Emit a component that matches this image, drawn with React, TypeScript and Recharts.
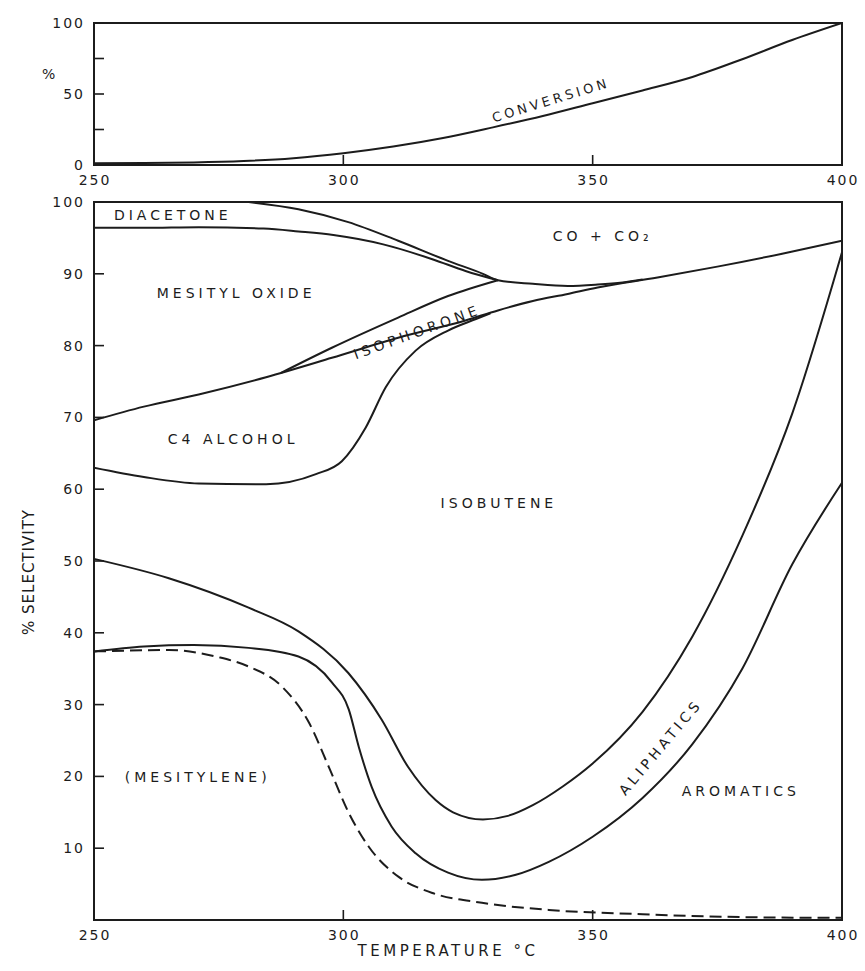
import React from "react";
import { LineChart, Line, XAxis, YAxis, ReferenceArea, ReferenceDot } from "recharts";

const INK = "#1c1c1c";
const FONT = "'DejaVu Sans', sans-serif";

// temperature ticks, shared by both panels
const TEMP_TICKS = [250, 300, 350, 400];
const CONV_TICKS = [0, 25, 50, 75, 100];
const SEL_TICKS = [10, 20, 30, 40, 50, 60, 70, 80, 90, 100];

// top panel: conversion, % vs temperature
const conversion = [
  { t: 250, v: 1.3 }, { t: 260, v: 1.4 }, { t: 270, v: 1.8 }, { t: 280, v: 2.8 },
  { t: 290, v: 4.8 }, { t: 300, v: 8.3 }, { t: 310, v: 13 }, { t: 320, v: 19 },
  { t: 330, v: 26.5 }, { t: 340, v: 34.5 }, { t: 350, v: 43.5 }, { t: 360, v: 52.5 },
  { t: 370, v: 62 }, { t: 380, v: 74.5 }, { t: 390, v: 88 }, { t: 400, v: 100 },
];

// bottom panel: cumulative selectivity boundaries
const coDiacetone = [
  { t: 281, v: 100 }, { t: 291, v: 99 }, { t: 301, v: 97.2 }, { t: 311, v: 94.6 },
  { t: 321, v: 91.8 }, { t: 328, v: 90 }, { t: 331, v: 89.1 }, { t: 338, v: 88.6 },
  { t: 345, v: 88.3 }, { t: 351, v: 88.5 }, { t: 356, v: 88.8 }, { t: 360, v: 89.2 },
];
const diacetoneMesityl = [
  { t: 250, v: 96.4 }, { t: 260, v: 96.4 }, { t: 271, v: 96.5 }, { t: 284, v: 96.3 },
  { t: 291, v: 95.9 }, { t: 298, v: 95.4 }, { t: 308, v: 94.1 }, { t: 318, v: 92 },
  { t: 324.5, v: 90.4 }, { t: 331, v: 89.1 },
];
const mesitylAlcohol = [
  { t: 250, v: 69.6 }, { t: 260, v: 71.5 }, { t: 271, v: 73.2 }, { t: 284.5, v: 75.6 },
  { t: 297.7, v: 78.3 }, { t: 311, v: 81.1 }, { t: 324.5, v: 83.5 }, { t: 331, v: 84.9 },
  { t: 338, v: 86.2 }, { t: 345, v: 87.2 }, { t: 351, v: 88.1 }, { t: 363, v: 89.5 },
  { t: 375, v: 91 }, { t: 388, v: 92.8 }, { t: 400, v: 94.6 },
];
const isophoroneTop = [
  { t: 287.5, v: 76.2 }, { t: 297.7, v: 79.7 }, { t: 311, v: 83.9 }, { t: 321, v: 86.9 },
  { t: 331, v: 89.1 },
];
const alcoholIsobutene = [
  { t: 250, v: 63 }, { t: 260, v: 61.7 }, { t: 271, v: 60.8 }, { t: 284.5, v: 60.7 },
  { t: 294.5, v: 62.1 }, { t: 299.7, v: 63.9 }, { t: 304.5, v: 68.6 }, { t: 308.5, v: 74.2 },
  { t: 314.5, v: 79.3 }, { t: 321, v: 82.1 }, { t: 326.6, v: 83.7 }, { t: 329.5, v: 84.5 },
];
const isobuteneAliphatics = [
  { t: 250, v: 50.3 }, { t: 265, v: 47.6 }, { t: 281, v: 43.5 }, { t: 291, v: 40.2 },
  { t: 301, v: 34.4 }, { t: 307.7, v: 27.9 }, { t: 313, v: 21.3 }, { t: 318.5, v: 16.7 },
  { t: 322, v: 15 }, { t: 328, v: 14 }, { t: 333, v: 14.5 }, { t: 338, v: 16 },
  { t: 344, v: 18.6 }, { t: 350, v: 21.8 }, { t: 360, v: 29 }, { t: 370, v: 39.5 },
  { t: 380, v: 53.5 }, { t: 390, v: 70.5 }, { t: 400, v: 93 },
];
const aliphaticsAromatics = [
  { t: 250, v: 37.4 }, { t: 260, v: 38.1 }, { t: 270, v: 38.3 }, { t: 281, v: 37.9 },
  { t: 291, v: 36.7 }, { t: 297.7, v: 33.1 }, { t: 301.1, v: 29.3 }, { t: 303.1, v: 24.1 },
  { t: 305.7, v: 18.5 }, { t: 309.7, v: 13 }, { t: 314.5, v: 9.3 }, { t: 321, v: 6.6 },
  { t: 327.8, v: 5.6 }, { t: 334.6, v: 6.3 }, { t: 341.2, v: 8.1 }, { t: 350, v: 11.6 },
  { t: 360, v: 17 }, { t: 370, v: 24.5 }, { t: 380, v: 35 }, { t: 390, v: 49.5 },
  { t: 400, v: 60.9 },
];
const mesitylene = [
  { t: 250, v: 37.4 }, { t: 265, v: 37.6 }, { t: 275, v: 36.6 }, { t: 281, v: 35.3 },
  { t: 287.7, v: 32.5 }, { t: 293.1, v: 27.5 }, { t: 297.1, v: 21.3 }, { t: 301.1, v: 14.9 },
  { t: 305.1, v: 10.2 }, { t: 311.1, v: 6 }, { t: 317.7, v: 3.8 }, { t: 327.8, v: 2.4 },
  { t: 341.2, v: 1.4 }, { t: 360, v: 0.8 }, { t: 380, v: 0.4 }, { t: 400, v: 0.3 },
];

// region names and where they sit (temperature, selectivity, rotation)
const regionNames = [
  "DIACETONE", "MESITYL OXIDE", "CO + CO₂", "ISOPHORONE", "C4 ALCOHOL",
  "ISOBUTENE", "(MESITYLENE)", "ALIPHATICS", "AROMATICS",
];
const regionAt = [
  [265.8, 98.2, 0], [278.5, 87.3, 0], [352, 95.3, 0], [314.8, 81.9, -20], [277.9, 67.0, 0],
  [331.2, 58.1, 0], [270.8, 19.9, 0], [363.6, 24.1, -50], [379.7, 17.9, 0],
];

const textStyle = { fontFamily: FONT, fontSize: 14, fill: INK, letterSpacing: 4 };
const tickStyle = { fontFamily: FONT, fontSize: 14, fill: INK, letterSpacing: 2 };

function YTick(props: any) {
  const { x, y, payload, every } = props;
  const axisX = x + 11;
  const show = payload.value % every === 0;
  return (
    <g>
      <line x1={axisX} x2={axisX + 10} y1={y} y2={y} stroke={INK} strokeWidth={1.6} />
      {show && (
        <text x={x + 2} y={y} dy={5} textAnchor="end" {...tickStyle}>
          {payload.value}
        </text>
      )}
    </g>
  );
}

function XTick(props: any) {
  const { x, y, payload } = props;
  const axisY = y - 6;
  return (
    <g>
      <line x1={x} x2={x} y1={axisY} y2={axisY - 10} stroke={INK} strokeWidth={1.6} />
      <text x={x + 1} y={axisY} dy={20} textAnchor="middle" {...tickStyle}>
        {payload.value}
      </text>
    </g>
  );
}

function curve(data: { t: number; v: number }[], key: string, dashed = false) {
  return (
    <Line
      key={key}
      data={data}
      dataKey="v"
      type="monotone"
      stroke={INK}
      strokeWidth={2}
      strokeDasharray={dashed ? "12 6" : undefined}
      dot={false}
      activeDot={false}
      isAnimationActive={false}
    />
  );
}

export default function App() {
  return (
    <div style={{ position: "absolute", left: 0, top: 0, width: 865, height: 971, background: "#fff" }}>
      <div style={{ position: "absolute", left: 0, top: 0 }}>
        <LineChart width={865} height={200} margin={{ top: 23, right: 23, bottom: 5, left: 0 }}>
          <XAxis
            type="number"
            dataKey="t"
            domain={[250, 400]}
            ticks={TEMP_TICKS}
            height={30}
            tickSize={0}
            tickMargin={6}
            axisLine={false}
            tick={<XTick />}
            allowDataOverflow
          />
          <YAxis
            type="number"
            domain={[0, 100]}
            ticks={CONV_TICKS}
            width={94}
            tickSize={0}
            tickMargin={11}
            axisLine={false}
            tick={<YTick every={50} />}
          />
          <ReferenceArea x1={250} x2={400} y1={0} y2={100} fill="none" stroke={INK} strokeWidth={2} />
          {curve(conversion, "conv")}
          <ReferenceDot
            x={341.6}
            y={45.7}
            r={0}
            fill="none"
            stroke="none"
            label={{ value: "CONVERSION", position: "center", angle: -17, ...textStyle, fontSize: 13, letterSpacing: 3.5 }}
          />
        </LineChart>
      </div>
      <div style={{ position: "absolute", left: 42, top: 66, fontFamily: FONT, fontSize: 14, color: INK }}>%</div>

      <div style={{ position: "absolute", left: 0, top: 190 }}>
        <LineChart width={865} height={781} margin={{ top: 12, right: 23, bottom: 15, left: 0 }}>
          <XAxis
            type="number"
            dataKey="t"
            domain={[250, 400]}
            ticks={TEMP_TICKS}
            height={36}
            tickSize={0}
            tickMargin={6}
            axisLine={false}
            tick={<XTick />}
            allowDataOverflow
            label={{ value: "TEMPERATURE °C", position: "insideBottom", offset: 0, dx: -20, ...textStyle, fontSize: 15, letterSpacing: 3.5 }}
          />
          <YAxis
            type="number"
            domain={[0, 100]}
            ticks={SEL_TICKS}
            width={94}
            tickSize={0}
            tickMargin={11}
            axisLine={false}
            tick={<YTick every={10} />}
          />
          <ReferenceArea x1={250} x2={400} y1={0} y2={100} fill="none" stroke={INK} strokeWidth={2} />
          {curve(coDiacetone, "a")}
          {curve(diacetoneMesityl, "b")}
          {curve(mesitylAlcohol, "c")}
          {curve(isophoroneTop, "d")}
          {curve(alcoholIsobutene, "e")}
          {curve(isobuteneAliphatics, "f")}
          {curve(aliphaticsAromatics, "g")}
          {curve(mesitylene, "h", true)}
          {regionNames.map((name, i) => (
            <ReferenceDot
              key={name}
              x={regionAt[i][0]}
              y={regionAt[i][1]}
              r={0}
              fill="none"
              stroke="none"
              label={{ value: name, position: "center", angle: regionAt[i][2], ...textStyle }}
            />
          ))}
        </LineChart>
      </div>
      <div
        style={{
          position: "absolute",
          left: 29,
          top: 572,
          transform: "translate(-50%, -50%) rotate(-90deg)",
          whiteSpace: "nowrap",
          fontFamily: FONT,
          fontSize: 15,
          letterSpacing: 1,
          color: INK,
        }}
      >
        % SELECTIVITY
      </div>
    </div>
  );
}
